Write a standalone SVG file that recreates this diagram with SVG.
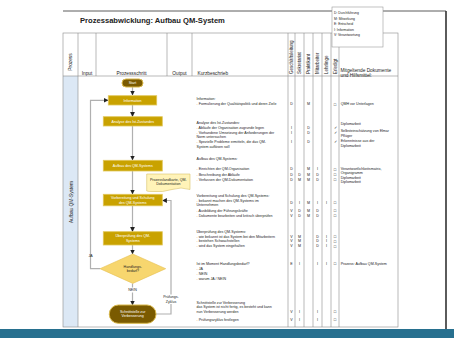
<svg xmlns="http://www.w3.org/2000/svg" width="454" height="338" viewBox="0 0 454 338">
<defs>
<marker id="ah" viewBox="0 0 6 6" refX="5.5" refY="3" markerWidth="4" markerHeight="4" orient="auto"><path d="M0,0 L6,3 L0,6 Z" fill="#222"/></marker>
<style>
text{font-family:"Liberation Sans",Arial,sans-serif;fill:#222}
.t{font-size:3.6px}
.lg{font-size:3.4px}
.h{font-size:4.8px}
.r{font-size:4.5px}
.m{font-size:3.6px;text-anchor:middle}
.sym{font-family:"DejaVu Sans",sans-serif;font-size:4px;text-anchor:middle}
.o{fill:#e07000}
.grid{stroke:#8a8a8a;stroke-width:0.6;fill:none}
.box{fill:#c9a200;stroke:#e2c75a;stroke-width:0.8}
.term{fill:#7a5a00;stroke:#d9b84a;stroke-width:1}
.bt{font-size:3.6px;text-anchor:middle;fill:#fff}
.con{stroke:#b0b0b0;stroke-width:1.2;fill:none}
</style>
</defs>
<rect x="0" y="0" width="454" height="338" fill="#fff"/>
<!-- frame -->
<line x1="63" y1="11" x2="446" y2="11" stroke="#333" stroke-width="0.8"/>
<line x1="446" y1="11" x2="446" y2="329" stroke="#333" stroke-width="1.6"/>
<rect x="0" y="329" width="454" height="9" fill="#27708f"/>
<!-- title -->
<text x="80" y="22.5" style="font-size:7.6px;font-weight:bold">Prozessabwicklung: Aufbau QM-System</text>
<!-- table -->
<rect x="63" y="76" width="15" height="251" fill="#dce8f5"/>
<g id="table" class="grid">
<rect x="63" y="33" width="335" height="294"/>
<line x1="63" y1="76" x2="398" y2="76"/>
<line x1="78" y1="33" x2="78" y2="327"/>
<line x1="96" y1="33" x2="96" y2="76"/>
<line x1="167" y1="33" x2="167" y2="76"/>
<line x1="192" y1="33" x2="192" y2="76"/>
<line x1="288" y1="33" x2="288" y2="327"/>
<line x1="295" y1="33" x2="295" y2="327"/>
<line x1="304" y1="33" x2="304" y2="327"/>
<line x1="313" y1="33" x2="313" y2="327"/>
<line x1="322" y1="33" x2="322" y2="327"/>
<line x1="331" y1="33" x2="331" y2="327"/>
<line x1="339" y1="33" x2="339" y2="327"/>
</g>
<!-- headers -->
<g id="headers">
<text class="h" transform="translate(72,62) rotate(-90)" text-anchor="middle">Prozess</text>
<text class="h" x="87" y="74.5" text-anchor="middle">Input</text>
<text class="h" x="131.5" y="74.5" text-anchor="middle">Prozessschritt</text>
<text class="h" x="179.5" y="74.5" text-anchor="middle">Output</text>
<text class="h" x="197.5" y="74.5">Kurzbeschrieb</text>
<text class="r" transform="translate(293,74) rotate(-90)">Geschäftsleitung</text>
<text class="r" transform="translate(301.2,74) rotate(-90)">Sekretariat</text>
<text class="r" transform="translate(310.2,74) rotate(-90)">Praktikant</text>
<text class="r" transform="translate(319.2,74) rotate(-90)">Mitarbeiter</text>
<text class="r" transform="translate(328.2,74) rotate(-90)">Lehrlinge</text>
<text class="r" transform="translate(336.7,74) rotate(-90)">Erledigt</text>
<text class="h" x="340.5" y="72">Mitgeltende Dokumente</text>
<text class="h" x="340.5" y="76.8">und Hilfsmittel:</text>
</g>
<!-- legend -->
<g id="legend">
<rect x="332" y="7" width="51" height="40" fill="#fff" stroke="#999" stroke-width="0.6"/>
<text class="lg" x="334" y="14">D: Durchführung</text>
<text class="lg" x="334" y="19.5">M: Mitwirkung</text>
<text class="lg" x="334" y="25">E: Entscheid</text>
<text class="lg" x="334" y="30.5">I: Information</text>
<text class="lg" x="334" y="36">V: Verantwortung</text>
</g>
<text class="h" transform="translate(72.5,202) rotate(-90)" text-anchor="middle">Aufbau QM-System</text>
<!-- connectors -->
<g id="connectors" class="con">
<line x1="132.5" y1="87" x2="132.5" y2="95" marker-end="url(#ah)"/>
<line x1="132.5" y1="105" x2="132.5" y2="116.5" marker-end="url(#ah)"/>
<line x1="132.5" y1="126" x2="132.5" y2="160" marker-end="url(#ah)"/>
<line x1="132.5" y1="171" x2="132.5" y2="194" marker-end="url(#ah)"/>
<line x1="132.5" y1="206" x2="132.5" y2="231.5" marker-end="url(#ah)"/>
<line x1="132.5" y1="245" x2="132.5" y2="254" marker-end="url(#ah)"/>
<line x1="132.5" y1="283.5" x2="132.5" y2="305" marker-end="url(#ah)"/>
<polyline points="100,268.7 90.5,268.7 90.5,100.3 108,100.3" marker-end="url(#ah)"/>
<polyline points="156,314 171,314 171,200.5 162.5,200.5" marker-end="url(#ah)"/>
</g>
<text class="m" x="90.5" y="257">JA</text>
<rect x="126" y="287.5" width="13" height="5" fill="#fff"/>
<text class="m" x="132.5" y="291.3">NEIN</text>
<rect x="162" y="294.5" width="18" height="9.5" fill="#fff"/>
<text class="m" x="171" y="298">Prüfungs-</text>
<text class="m" x="171" y="302.6">Zyklus</text>
<!-- nodes -->
<g id="start"><rect class="term" x="122" y="79" width="21" height="8" rx="4"/><text class="bt" x="132.5" y="84.2">Start</text></g>
<g id="information"><rect class="box" x="108.3" y="95.7" width="48.4" height="9.3"/><text class="bt" x="132.5" y="101.6">Information</text></g>
<g id="analyse"><rect class="box" x="103.3" y="116.7" width="59" height="9.3"/><text class="bt" x="132.8" y="122.6">Analyse des Ist-Zustandes</text></g>
<g id="aufbau"><rect class="box" x="103.3" y="160.3" width="59" height="10.7"/><text class="bt" x="132.8" y="166.9">Aufbau des QM-Systems</text></g>
<g id="note"><path d="M146.7,174 H190 V189.5 Q181,186.5 172,189.5 T152,191.5 Q149,191.6 146.7,191 Z" fill="#fff3b8" stroke="#d8c26a" stroke-width="0.6"/><text class="m" x="168.3" y="180.5">Prozesslandkarte, QM-</text><text class="m" x="168.3" y="184.8">Dokumentation</text></g>
<g id="vorbereitung"><rect class="box" x="103.3" y="194.3" width="59" height="11.5"/><text class="bt" x="132.8" y="199.3">Vorbereitung und Schulung</text><text class="bt" x="132.8" y="203.6">des QM-Systems</text></g>
<g id="ueberpruefung"><rect class="box" x="103.3" y="231.7" width="59" height="13.3"/><text class="bt" x="132.8" y="237.4">Überprüfung des QM-</text><text class="bt" x="132.8" y="241.7">Systems</text></g>
<g id="entscheid"><path d="M132.8,254 L165.7,268.7 L132.8,283.4 L100,268.7 Z" fill="#f7d66e" stroke="#e6c050" stroke-width="0.6"/><text class="m" x="132.8" y="267.5">Handlungs-</text><text class="m" x="132.8" y="271.8">bedarf?</text></g>
<g id="schnittstelle"><rect class="term" x="109.3" y="305" width="46.7" height="18.3" rx="9"/><text class="bt" x="132.7" y="313">Schnittstelle zur</text><text class="bt" x="132.7" y="317.3">Verbesserung</text></g>
<!-- Kurzbeschrieb -->
<g id="kurz" class="t">
<text x="196.5" y="100.3">Information:</text>
<text x="196.5" y="105.3"><tspan class="o">- </tspan>Formulierung der Qualitätspolitik und deren Ziele</text>
<text x="196.5" y="124">Analyse des Ist-Zustandes:</text>
<text x="196.5" y="129"><tspan class="o">- </tspan>Abläufe der Organisation zugrunde legen</text>
<text x="196.5" y="133.7"><tspan class="o">- </tspan>Vorhandene Umsetzung der Anforderungen der</text>
<text x="196.5" y="138.3">Norm untersuchen</text>
<text x="196.5" y="143.3"><tspan class="o">- </tspan>Spezielle Probleme ermitteln, die das QM-</text>
<text x="196.5" y="147.6">System auflösen soll</text>
<text x="196.5" y="160.3">Aufbau des QM-Systems:</text>
<text x="196.5" y="170.3"><tspan class="o">- </tspan>Einrichten der QM-Organisation</text>
<text x="196.5" y="175.5"><tspan class="o">- </tspan>Beschreibung der Abläufe</text>
<text x="196.5" y="180.5"><tspan class="o">- </tspan>Verfassen der QM-Dokumentation</text>
<text x="196.5" y="197">Vorbereitung und Schulung des QM-Systems:</text>
<text x="196.5" y="201.5"><tspan class="o">- </tspan>bekannt machen des QM-Systems im</text>
<text x="196.5" y="206">Unternehmen</text>
<text x="196.5" y="211.5"><tspan class="o">- </tspan>Ausbildung der Führungskräfte</text>
<text x="196.5" y="216.5"><tspan class="o">- </tspan>Dokumente bearbeiten und kritisch überprüfen</text>
<text x="196.5" y="233">Überprüfung des QM-Systems:</text>
<text x="196.5" y="237.5"><tspan class="o">- </tspan>wie bekannt ist das System bei den Mitarbeitern</text>
<text x="196.5" y="242.3"><tspan class="o">- </tspan>bestehen Schwachstellen</text>
<text x="196.5" y="247.3"><tspan class="o">- </tspan>wird das System eingehalten</text>
<text x="196.5" y="264.6">Ist im Moment Handlungsbedarf?</text>
<text x="196.5" y="269.6"><tspan class="o">- </tspan>JA</text>
<text x="196.5" y="274.6"><tspan class="o">- </tspan>NEIN</text>
<text x="196.5" y="279.6"><tspan class="o">- </tspan>warum JA / NEIN</text>
<text x="196.5" y="304">Schnittstelle zur Verbesserung</text>
<text x="196.5" y="308.3">das System ist nicht fertig, es besteht und kann</text>
<text x="196.5" y="312.6">nun Verbesserung werden</text>
<text x="196.5" y="320.6"><tspan class="o">- </tspan>Prüfungszyklus festlegen</text>
</g>
<!-- matrix -->
<g id="matrix" class="m">
<text x="291.5" y="105.3">D</text><text x="308.5" y="105.3">M</text>
<text x="291.5" y="129">I</text><text x="308.5" y="129">D</text>
<text x="291.5" y="133.7">I</text><text x="308.5" y="133.7">D</text>
<text x="291.5" y="143.3">I</text><text x="308.5" y="143.3">D</text>
<text x="291.5" y="170.3">D</text><text x="308.5" y="170.3">M</text><text x="317.5" y="170.3">I</text>
<text x="291.5" y="175.5">D</text><text x="299.5" y="175.5">D</text><text x="308.5" y="175.5">M</text><text x="317.5" y="175.5">D</text>
<text x="291.5" y="180.5">D</text><text x="299.5" y="180.5">M</text><text x="308.5" y="180.5">M</text><text x="317.5" y="180.5">D</text>
<text x="291.5" y="203.5">D</text><text x="299.5" y="203.5">I</text><text x="308.5" y="203.5">M</text><text x="317.5" y="203.5">I</text><text x="326.5" y="203.5">I</text>
<text x="291.5" y="211.5">V</text><text x="299.5" y="211.5">D</text><text x="308.5" y="211.5">M</text><text x="317.5" y="211.5">D</text>
<text x="291.5" y="216.5">V</text><text x="299.5" y="216.5">D</text><text x="308.5" y="216.5">M</text><text x="317.5" y="216.5">D</text>
<text x="291.5" y="237.5">V</text><text x="299.5" y="237.5">M</text><text x="317.5" y="237.5">D</text><text x="326.5" y="237.5">I</text>
<text x="291.5" y="242.3">V</text><text x="299.5" y="242.3">M</text><text x="317.5" y="242.3">D</text><text x="326.5" y="242.3">I</text>
<text x="291.5" y="247.3">V</text><text x="299.5" y="247.3">M</text><text x="317.5" y="247.3">D</text><text x="326.5" y="247.3">I</text>
<text x="291.5" y="264.6">E</text><text x="299.5" y="264.6">I</text><text x="317.5" y="264.6">I</text><text x="326.5" y="264.6">I</text>
<text x="291.5" y="312.6">V</text><text x="299.5" y="312.6">I</text><text x="317.5" y="312.6">I</text>
<text x="291.5" y="320.6">V</text><text x="299.5" y="320.6">I</text><text x="317.5" y="320.6">I</text>
</g>
<g id="erledigt" class="sym">
<text x="335" y="105.5">□</text>
<text x="335" y="129">✓</text><text x="335" y="133.7">✓</text><text x="335" y="143.3">✓</text>
<text x="335" y="170.5">□</text><text x="335" y="175.7">□</text><text x="335" y="180.7">□</text>
<text x="335" y="203.7">□</text><text x="335" y="211.7">□</text><text x="335" y="216.7">□</text>
<text x="335" y="237.7">□</text><text x="335" y="242.5">□</text><text x="335" y="247.5">□</text>
<text x="335" y="264.8">□</text>
<text x="335" y="312.8">□</text><text x="335" y="320.8">□</text>
</g>
<g id="dokumente" class="t">
<text x="340.7" y="105.3">QMH vor Unterlagen</text>
<text x="340.7" y="124.5">Diplomarbeit</text>
<text x="340.7" y="131.8">Selbsteinschätzung von Elmar</text>
<text x="340.7" y="136.5">Pflüger</text>
<text x="340.7" y="141.8">Erkenntnisse aus der</text>
<text x="340.7" y="146.5">Diplomarbeit</text>
<text x="340.7" y="169.8">Verantwortlichkeitsmatrix,</text>
<text x="340.7" y="174.3">Organigramm</text>
<text x="340.7" y="178.6">Diplomarbeit</text>
<text x="340.7" y="183">Diplomarbeit</text>
<text x="340.7" y="264.6">Prozess: Aufbau QM-System</text>
</g>
</svg>
